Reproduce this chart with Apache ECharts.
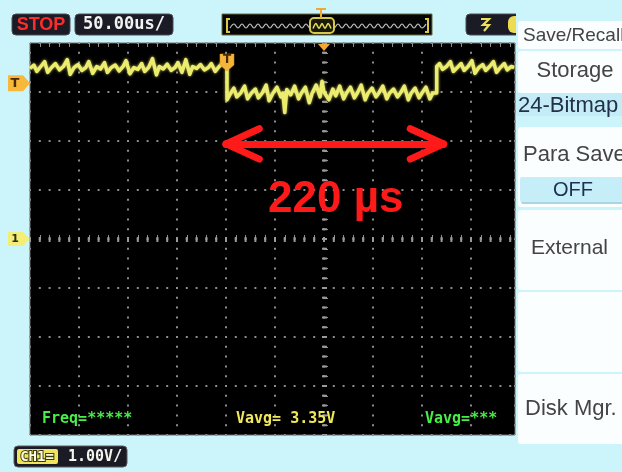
<!DOCTYPE html>
<html><head><meta charset="utf-8">
<script src="https://cdn.jsdelivr.net/npm/echarts@6/dist/echarts.min.js"></script>
<style>html,body{margin:0;padding:0;background:#cbf5fb}#c{width:622px;height:472px}</style>
</head><body><div id="c"></div>
<script>
// ---- data (time in µs, voltage in V) ----
const highTimesA = [-300,-296,-293,-289,-285,-282,-278,-274,-270,-266,-262,-259,-255,-251,-247,-243,-240,-236,-232,-228,-224,-221,-217,-213,-209,-205,-202,-198,-194,-190,-186,-183,-179,-175,-171,-168,-164,-160,-156,-152,-149,-145,-141,-137,-134,-130,-126,-122,-118,-115,-111,-107,-103,-99];
const highVoltsA = [3.48,3.55,3.42,3.52,3.62,3.40,3.50,3.58,3.45,3.52,3.66,3.36,3.50,3.56,3.44,3.50,3.62,3.38,3.52,3.47,3.60,3.40,3.50,3.55,3.43,3.52,3.64,3.37,3.50,3.46,3.58,3.42,3.50,3.68,3.35,3.52,3.47,3.57,3.44,3.50,3.60,3.40,3.66,3.36,3.52,3.48,3.56,3.45,3.50,3.58,3.42,3.52,3.60,3.52];
const lowTimes = [-99,-95,-92,-89,-85,-81,-78,-74,-70,-67,-63,-59,-56,-52,-48,-44,-42,-40,-38,-34,-30,-26,-23,-19,-15,-12,-8,-4,-2,0,2,5,9,12,16,20,23,27,31,34,38,42,45,49,53,56,60,64,67,71,75,78,82,86,89,93,97,100,104,108,111,115];
const lowVolts = [2.84,2.98,3.08,2.90,2.98,3.12,2.86,2.98,3.06,2.88,2.98,3.14,2.82,2.98,3.10,2.90,2.98,2.58,3.05,2.94,3.12,2.86,2.98,3.10,2.78,2.98,3.14,2.90,3.22,3.00,2.96,2.84,3.06,2.92,3.12,2.86,2.98,3.10,2.88,2.98,3.14,2.84,2.98,3.08,2.90,2.98,3.12,2.86,2.98,3.06,2.90,2.98,3.12,2.84,2.98,3.08,2.88,2.98,3.10,2.86,2.98,2.98];
const highTimesB = [115,118,121,125,129,132,136,140,143,147,151,154,158,162,165,169,173,176,180,184,187,191,194];
const highVoltsB = [3.52,3.58,3.46,3.52,3.62,3.42,3.50,3.58,3.44,3.52,3.64,3.38,3.50,3.56,3.44,3.52,3.62,3.40,3.50,3.58,3.45,3.52,3.50];

const timeRangeUs = [-300, 194.9];   // 50 µs/div, visible part of 12 divisions
const voltRange = [-4, 4];           // 1.00 V/div, 8 divisions
const timeDivUs = 50, voltDiv = 1;
const triggerTimeUs = -99, triggerLevelV = 3.18, highLevelV = 3.51, groundV = 0;
const pulseStartUs = -100, pulseEndUs = 122, pulseArrowV = 1.94;
const pulseLabel = '220 µs', pulseLabelAt = [12, 0.8];
const measurements = ['Freq=*****', 'Vavg= 3.35V', 'Vavg=***'];
const menuItems = ['Save/Recall', 'Storage', '24-Bitmap', 'Para Save', 'OFF', 'External', 'Disk Mgr.'];
const timebaseLabel = '50.00us/', voltLabel = '1.00V/', runLabel = 'STOP';

const zip = (a, b) => a.map((t, i) => [t, b[i]]);
const trace = zip(highTimesA, highVoltsA).concat(zip(lowTimes, lowVolts), zip(highTimesB, highVoltsB));

const chart = echarts.init(document.getElementById('c'), null, {renderer: 'canvas'});
const gridCol = '#8e8e8e';
const axisBase = {
  type: 'value',
  axisLabel: {show: false},
  axisLine: {show: false},
  axisTick: {show: false, inside: true},
  minorTick: {show: true, splitNumber: 5, length: 4, lineStyle: {color: gridCol, width: 1}},
  minorSplitLine: {show: false}
};
const dotted = {show: true, lineStyle: {color: gridCol, width: 2, type: [2, 7.8], dashOffset: 1}};

const headDt = 34, headDv = 0.31;
const arrowSegs = [
  [[pulseStartUs, pulseArrowV], [pulseEndUs, pulseArrowV]],
  [[pulseStartUs, pulseArrowV], [pulseStartUs + headDt, pulseArrowV + headDv]],
  [[pulseStartUs, pulseArrowV], [pulseStartUs + headDt, pulseArrowV - headDv]],
  [[pulseEndUs, pulseArrowV], [pulseEndUs - headDt, pulseArrowV + headDv]],
  [[pulseEndUs, pulseArrowV], [pulseEndUs - headDt, pulseArrowV - headDv]]
].map(s => [{coord: s[0]}, {coord: s[1]}]);

const option = {
  backgroundColor: '#cbf5fb',
  animation: false,
  grid: {left: 30, right: 107, top: 43, bottom: 37, show: true, backgroundColor: '#000', borderColor: '#6e6e6e', borderWidth: 1},
  xAxis: [
    Object.assign({}, axisBase, {min: timeRangeUs[0], max: timeRangeUs[1], interval: timeDivUs, splitLine: dotted}),
    Object.assign({}, axisBase, {min: timeRangeUs[0], max: timeRangeUs[1], interval: timeDivUs, position: 'top', splitLine: {show: false}})
  ],
  yAxis: [
    Object.assign({}, axisBase, {min: voltRange[0], max: voltRange[1], interval: voltDiv, splitLine: dotted})
  ],
  series: [
    {
      type: 'line', data: [[0, 0]], symbol: 'none', lineStyle: {opacity: 0}, silent: true, z: 1,
      markLine: {silent: true, symbol: 'none', label: {show: false},
        lineStyle: {color: '#9a9a9a', width: 5, type: [2, 7.8], dashOffset: 1},
        data: [{xAxis: 0}, {yAxis: 0}]}
    },
    {
      type: 'line', data: trace, showSymbol: false, symbol: 'none', z: 5, silent: true,
      lineStyle: {color: '#ecec6e', width: 3.5, shadowBlur: 3, shadowColor: 'rgba(236,236,110,0.8)', join: 'round'}
    },
    {
      type: 'line', data: [], z: 8, silent: true,
      markLine: {silent: true, symbol: 'none', label: {show: false}, animation: false,
        lineStyle: {color: '#ff1a1a', width: 7, type: 'solid', cap: 'round'},
        data: arrowSegs},
      markPoint: {silent: true, symbol: 'rect', symbolSize: 1, itemStyle: {color: 'transparent'},
        label: {show: true, position: 'inside', formatter: pulseLabel, color: '#ff1a1a', fontSize: 44, fontWeight: 'bold', fontFamily: 'Liberation Sans'},
        data: [{coord: pulseLabelAt}]}
    }
  ]
};
chart.setOption(option);

const px = (t, v) => chart.convertToPixel({gridIndex: 0}, [t, v]);
const pTrig = px(triggerTimeUs, highLevelV);
const yTrigLvl = px(0, triggerLevelV)[1];
const yGnd = px(0, groundV)[1];
const xCenter = px(0, 0)[0];
const gridTop = px(0, voltRange[1])[1];
const gridBottom = px(0, voltRange[0])[1];

// decorative wiggle for the overview strip
const wiggle = (x0, x1, y, amp, step) => {
  const pts = [];
  let k = 0;
  for (let x = x0; x <= x1; x += step / 2) { pts.push([x, y + (k % 2 ? -amp : amp)]); k++; }
  return pts;
};

const dark = '#1b1b26';
const G = [];
const Z = 20;
// top bar
G.push({type: 'rect', z: Z, shape: {x: 12, y: 14, width: 58, height: 21, r: 4}, style: {fill: dark, stroke: '#4a4a55', lineWidth: 1}});
G.push({type: 'text', z: Z + 1, style: {text: runLabel, x: 41, y: 25, align: 'center', verticalAlign: 'middle', fill: '#ff2b2b', font: 'bold 18px "Liberation Sans"'}});
G.push({type: 'rect', z: Z, shape: {x: 75, y: 14, width: 98, height: 21, r: 4}, style: {fill: dark, stroke: '#4a4a55', lineWidth: 1}});
G.push({type: 'text', z: Z + 1, style: {text: timebaseLabel, x: 124, y: 25, align: 'center', verticalAlign: 'middle', fill: '#f2f2f2', font: 'bold 17px "DejaVu Sans Mono"'}});
// overview bar
G.push({type: 'rect', z: Z, shape: {x: 222, y: 14, width: 210, height: 21}, style: {fill: '#050505', stroke: '#6b6b3a', lineWidth: 1}});
G.push({type: 'polyline', z: Z + 1, shape: {points: wiggle(230, 426, 26, 2, 8), smooth: 0.4}, style: {fill: 'none', stroke: '#c4c4c4', lineWidth: 1.2}});
G.push({type: 'polyline', z: Z + 2, shape: {points: [[230, 19], [227, 19], [227, 32], [230, 32]]}, style: {stroke: '#d6c84a', lineWidth: 2, fill: 'none'}});
G.push({type: 'polyline', z: Z + 2, shape: {points: [[425, 19], [428, 19], [428, 32], [425, 32]]}, style: {stroke: '#d6c84a', lineWidth: 2, fill: 'none'}});
G.push({type: 'rect', z: Z + 2, shape: {x: 310, y: 18, width: 24, height: 15, r: 4}, style: {fill: '#1a1a08', stroke: '#d6c84a', lineWidth: 2}});
G.push({type: 'polyline', z: Z + 3, shape: {points: wiggle(313, 331, 26, 2.5, 6), smooth: 0.3}, style: {fill: 'none', stroke: '#e6de60', lineWidth: 1.5}});
G.push({type: 'line', z: Z + 3, shape: {x1: 316, y1: 9, x2: 326, y2: 9}, style: {stroke: '#f0a830', lineWidth: 2}});
G.push({type: 'line', z: Z + 3, shape: {x1: 321, y1: 9, x2: 321, y2: 18}, style: {stroke: '#f0a830', lineWidth: 2}});
// trigger box
G.push({type: 'rect', z: Z, shape: {x: 466, y: 14, width: 60, height: 21, r: 4}, style: {fill: dark, stroke: '#4a4a55', lineWidth: 1}});
G.push({type: 'polyline', z: Z + 1, shape: {points: [[481, 19], [489, 19], [483, 25], [489, 25], [484, 31]]}, style: {stroke: '#e8e060', lineWidth: 2.2, fill: 'none'}});
G.push({type: 'rect', z: Z + 1, shape: {x: 508, y: 16, width: 16, height: 17, r: 6}, style: {fill: '#eedc50'}});
// trigger markers
G.push({type: 'polygon', z: Z + 2, shape: {points: [[pTrig[0] - 7, pTrig[1] - 13], [pTrig[0] + 7, pTrig[1] - 13], [pTrig[0] + 7, pTrig[1] - 2], [pTrig[0], pTrig[1] + 4], [pTrig[0] - 7, pTrig[1] - 2]]}, style: {fill: '#f5b43a', stroke: '#e0a020', lineWidth: 0.5}});
G.push({type: 'text', z: Z + 3, style: {text: 'T', x: pTrig[0], y: pTrig[1] - 7, align: 'center', verticalAlign: 'middle', fill: '#4a2800', font: 'bold 12px "DejaVu Sans"'}});
G.push({type: 'polygon', z: Z + 2, shape: {points: [[xCenter - 6, gridTop + 1], [xCenter + 6, gridTop + 1], [xCenter, gridTop + 8]]}, style: {fill: '#f5a830'}});
G.push({type: 'polygon', z: Z, shape: {points: [[8, yTrigLvl - 8], [23, yTrigLvl - 8], [30, yTrigLvl], [23, yTrigLvl + 8], [8, yTrigLvl + 8]]}, style: {fill: '#f8b83a'}});
G.push({type: 'text', z: Z + 1, style: {text: 'T', x: 15, y: yTrigLvl, align: 'center', verticalAlign: 'middle', fill: '#4a2800', font: 'bold 13px "DejaVu Sans"'}});
G.push({type: 'polygon', z: Z, shape: {points: [[8, yGnd - 7], [23, yGnd - 7], [30, yGnd], [23, yGnd + 7], [8, yGnd + 7]]}, style: {fill: '#f2ee78'}});
G.push({type: 'text', z: Z + 1, style: {text: '1', x: 15, y: yGnd, align: 'center', verticalAlign: 'middle', fill: '#303010', font: 'bold 11px "DejaVu Sans"'}});
// measurements
const mY = gridBottom - 16;
G.push({type: 'text', z: Z, style: {text: measurements[0], x: 42, y: mY, verticalAlign: 'middle', fill: '#46ee46', font: 'bold 15px "DejaVu Sans Mono"'}});
G.push({type: 'text', z: Z, style: {text: measurements[1], x: 236, y: mY, verticalAlign: 'middle', fill: '#eee85a', font: 'bold 15px "DejaVu Sans Mono"'}});
G.push({type: 'text', z: Z, style: {text: measurements[2], x: 425, y: mY, verticalAlign: 'middle', fill: '#46ee46', font: 'bold 15px "DejaVu Sans Mono"'}});
// channel box
G.push({type: 'rect', z: Z, shape: {x: 14, y: 446, width: 113, height: 21, r: 4}, style: {fill: dark, stroke: '#5a5a60', lineWidth: 1}});
G.push({type: 'rect', z: Z + 1, shape: {x: 17, y: 449, width: 41, height: 15, r: 2}, style: {fill: '#efe45a'}});
G.push({type: 'text', z: Z + 2, style: {text: 'CH1=', x: 37, y: 457, align: 'center', verticalAlign: 'middle', fill: '#fffbe0', stroke: '#3a3a10', lineWidth: 2, font: 'bold 14px "DejaVu Sans Mono"'}});
G.push({type: 'text', z: Z + 1, style: {text: voltLabel, x: 68, y: 457, verticalAlign: 'middle', fill: '#f4f4ec', font: 'bold 15px "DejaVu Sans Mono"'}});
// menu panel
const MZ = 60;
G.push({type: 'rect', z: MZ, shape: {x: 516, y: 0, width: 106, height: 472}, style: {fill: '#cbf5fb'}});
const box = (y, h, fill) => G.push({type: 'rect', z: MZ + 1, shape: {x: 518, y: y, width: 110, height: h, r: 3}, style: {fill: fill || '#fbfefe'}});
box(21, 28); box(51, 42); box(127, 80); box(210, 80); box(292, 80); box(374, 70);
G.push({type: 'rect', z: MZ + 2, shape: {x: 516, y: 93, width: 110, height: 23}, style: {fill: '#c4ecf6'}});
G.push({type: 'rect', z: MZ + 2, shape: {x: 521, y: 178, width: 106, height: 26, r: 2}, style: {fill: '#a9d6e2'}});
G.push({type: 'rect', z: MZ + 3, shape: {x: 520, y: 177, width: 106, height: 25, r: 2}, style: {fill: '#c6eef8'}});
const mtext = (t, x, y, align, fill, size) => G.push({type: 'text', z: MZ + 4, style: {text: t, x: x, y: y, align: align, verticalAlign: 'middle', fill: fill || '#404040', font: (size || 20) + 'px "Liberation Sans"'}});
mtext(menuItems[0], 523, 36, 'left', '#444444', 19);
mtext(menuItems[1], 575, 71, 'center', '#444444', 22);
mtext(menuItems[2], 518, 106, 'left', '#22304a', 22);
mtext(menuItems[3], 523, 155, 'left', '#444444', 22);
mtext(menuItems[4], 573, 190, 'center', '#1f3050', 20);
mtext(menuItems[5], 531, 248, 'left', '#444444', 21);
mtext(menuItems[6], 525, 409, 'left', '#444444', 22);

chart.setOption({graphic: {elements: G}});
</script>
</body></html>
